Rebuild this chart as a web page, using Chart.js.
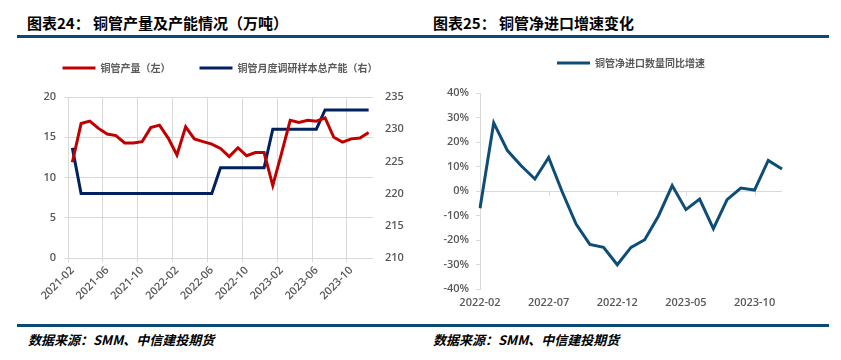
<!DOCTYPE html>
<html lang="zh-CN">
<head>
<meta charset="UTF-8">
<title>铜管产量及净进口</title>
<script src="https://cdn.jsdelivr.net/npm/chart.js@4.4.1/dist/chart.umd.min.js"></script>
<style>
  body { margin: 0; width: 841px; height: 360px; background: #fff; position: relative; overflow: hidden; font-family: "Noto Sans CJK SC", sans-serif; }
  .title { position: absolute; top: 13px; font-size: 15px; font-weight: bold; color: #000; line-height: 20px; white-space: nowrap; }
  .rule { position: absolute; left: 17px; width: 812px; height: 3px; background: #0c4a76; }
  .src { position: absolute; top: 331px; font-size: 13px; font-weight: bold; font-style: italic; color: #000; line-height: 18px; white-space: nowrap; }
  .box { position: absolute; }
</style>
</head>
<body>
<div class="title" style="left:27px">图表24： 铜管产量及产能情况（万吨）</div>
<div class="title" style="left:433px">图表25： 铜管净进口增速变化</div>
<div class="rule" style="top:35px"></div>
<div class="rule" style="top:324px"></div>
<div class="src" style="left:28px">数据来源：SMM、中信建投期货</div>
<div class="src" style="left:433px">数据来源：SMM、中信建投期货</div>
<div class="box" style="left:0;top:34px;width:420px;height:286px"><canvas id="prodChart"></canvas></div>
<div class="box" style="left:420px;top:48px;width:421px;height:272px"><canvas id="importChart"></canvas></div>
<script>
  // left chart
  const prodMonths = ['2021-02','2021-03','2021-04','2021-05','2021-06','2021-07','2021-08','2021-09','2021-10','2021-11','2021-12',
    '2022-01','2022-02','2022-03','2022-04','2022-05','2022-06','2022-07','2022-08','2022-09','2022-10','2022-11','2022-12',
    '2023-01','2023-02','2023-03','2023-04','2023-05','2023-06','2023-07','2023-08','2023-09','2023-10','2023-11','2023-12'];
  const tubeOutput = [11.9, 16.7, 17.0, 16.1, 15.4, 15.2, 14.3, 14.3, 14.45, 16.2, 16.5,
    14.9, 12.8, 16.3, 14.8, 14.45, 14.15, 13.6, 12.6, 13.7, 12.7, 13.1, 13.1,
    9.0, 13.0, 17.1, 16.85, 17.1, 17.0, 17.4, 15.0, 14.4, 14.8, 14.9, 15.6];
  const tubeCapacity = [227.1, 220, 220, 220, 220, 220, 220, 220, 220, 220, 220,
    220, 220, 220, 220, 220, 220, 224, 224, 224, 224, 224, 224,
    230, 230, 230, 230, 230, 230, 233, 233, 233, 233, 233, 233];
  const leftTicks = [0, 20, 5];
  const rightTicks = [210, 235, 5];

  // right chart
  const importMonths = ['2022-02','2022-03','2022-04','2022-05','2022-06','2022-07','2022-08','2022-09','2022-10','2022-11','2022-12',
    '2023-01','2023-02','2023-03','2023-04','2023-05','2023-06','2023-07','2023-08','2023-09','2023-10','2023-11','2023-12'];
  const netImportGrowth = [-7, 27.8, 16.5, 10.3, 4.9, 13.7, -0.5, -13.5, -21.8, -23, -30.1,
    -23, -19.9, -10.2, 2.2, -7.6, -3.3, -15.4, -3.5, 1.2, 0.4, 12.5, 9.0];
  const pctTicks = [-40, 40, 10];

  const GRID = '#d9d9d9';
  const TXT = '#595959';
  Chart.defaults.font.family = "'Open Sans', 'Noto Sans CJK SC', sans-serif";
  Chart.defaults.color = TXT;

  const tickFont = { size: 11, weight: '600' };
  const legendLabels = {
    boxWidth: 33,
    boxHeight: 3,
    color: TXT,
    font: { size: 10, family: 'Noto Sans CJK SC', weight: '600' },
    generateLabels(chart) {
      const items = Chart.defaults.plugins.legend.labels.generateLabels(chart);
      items.forEach(it => { it.fillStyle = it.strokeStyle; it.lineWidth = 0; });
      return items;
    }
  };

  new Chart(document.getElementById('prodChart'), {
    type: 'line',
    data: {
      labels: prodMonths,
      datasets: [
        { label: '铜管产量（左）', data: tubeOutput, yAxisID: 'y', borderColor: '#c00000', backgroundColor: '#c00000', borderWidth: 3, pointRadius: 0, tension: 0 },
        { label: '铜管月度调研样本总产能（右）', data: tubeCapacity, yAxisID: 'y1', borderColor: '#002060', backgroundColor: '#002060', borderWidth: 3, pointRadius: 0, tension: 0 }
      ]
    },
    options: {
      responsive: true,
      maintainAspectRatio: false,
      animation: false,
      layout: { padding: { left: 20 } },
      plugins: {
        legend: { position: 'top', fullSize: true, weight: 3000, labels: Object.assign({ padding: 29 }, legendLabels) },
        title: { display: true, text: '', font: { size: 10 }, padding: { top: 0, bottom: 2 } },
        tooltip: { enabled: false }
      },
      scales: {
        x: {
          offset: true,
          grid: {
            offset: true,
            tickLength: 4,
            color: c => (c.index % 4 === 0 && c.index < prodMonths.length) ? GRID : 'transparent'
          },
          border: { display: false },
          ticks: {
            autoSkip: false, minRotation: 45, maxRotation: 45, padding: 2,
            font: tickFont, color: TXT,
            callback: (v, i) => i % 4 === 0 ? prodMonths[i] : ''
          },
          afterFit: s => { s.height = 62; }
        },
        y: {
          position: 'left', min: leftTicks[0], max: leftTicks[1],
          ticks: { stepSize: leftTicks[2], padding: 9, font: tickFont, color: TXT },
          grid: { color: GRID, tickLength: 3 },
          border: { display: false },
          afterFit: s => { s.width = 48; }
        },
        y1: {
          position: 'right', min: rightTicks[0], max: rightTicks[1],
          ticks: { stepSize: rightTicks[2], padding: 12, font: tickFont, color: TXT },
          grid: { display: false, drawTicks: false },
          border: { display: false },
          afterFit: s => { s.width = 47; }
        }
      }
    }
  });

  const zeroTicks = {
    id: 'zeroTicks',
    beforeDatasetsDraw(chart) {
      const x = chart.scales.x, y = chart.scales.y, ctx = chart.ctx;
      const y0 = y.getPixelForValue(0);
      ctx.save();
      ctx.strokeStyle = GRID;
      ctx.lineWidth = 1;
      x.ticks.forEach((t, i) => {
        if (i % 5 !== 0 || i === 0) return;
        const px = Math.round(x.getPixelForTick(i)) + 0.5;
        ctx.beginPath();
        ctx.moveTo(px, y0);
        ctx.lineTo(px, y0 + 5);
        ctx.stroke();
      });
      ctx.restore();
    }
  };

  new Chart(document.getElementById('importChart'), {
    type: 'line',
    data: {
      labels: importMonths,
      datasets: [
        { label: '铜管净进口数量同比增速', data: netImportGrowth, borderColor: '#0e4d78', backgroundColor: '#0e4d78', borderWidth: 3, pointRadius: 0, tension: 0 }
      ]
    },
    options: {
      responsive: true,
      maintainAspectRatio: false,
      animation: false,
      layout: { padding: { right: 59 } },
      plugins: {
        legend: { position: 'top', fullSize: false, weight: 3000, labels: Object.assign({ padding: 10 }, legendLabels) },
        title: { display: true, text: '', font: { size: 10 }, padding: { top: 0, bottom: 3 } },
        tooltip: { enabled: false }
      },
      scales: {
        x: {
          offset: false,
          grid: { display: false, drawTicks: false },
          border: { display: false },
          ticks: {
            autoSkip: false, maxRotation: 0, minRotation: 0, padding: 7,
            font: tickFont, color: TXT,
            callback: (v, i) => i % 5 === 0 ? importMonths[i] : ''
          },
          afterFit: s => { s.height = 31; }
        },
        y: {
          min: pctTicks[0], max: pctTicks[1],
          ticks: { stepSize: pctTicks[2], padding: 7, font: tickFont, color: TXT, callback: v => v + '%' },
          grid: { color: c => c.tick && c.tick.value === 0 ? GRID : 'transparent', tickColor: GRID, tickLength: 4 },
          border: { display: true, color: GRID },
          afterFit: s => { s.width = 60; }
        }
      }
    },
    plugins: [zeroTicks]
  });
</script>
</body>
</html>
